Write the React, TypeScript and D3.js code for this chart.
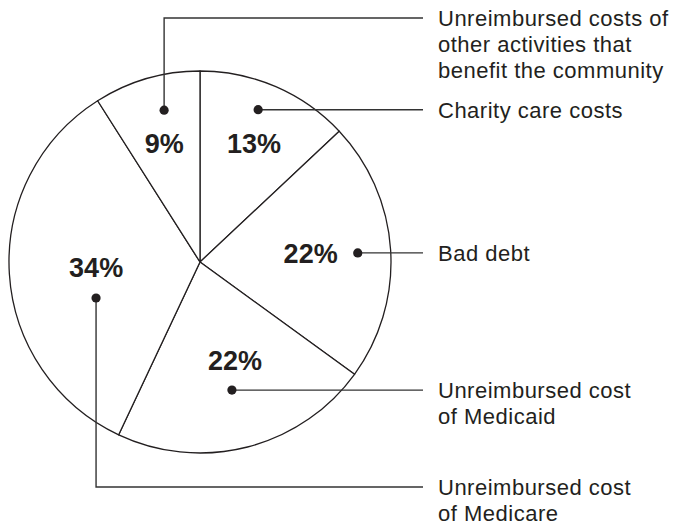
import React from 'react';
import * as d3 from 'd3';

// slice values, clockwise from 12 o'clock
const categories = ['charity', 'badDebt', 'medicaid', 'medicare', 'other'];
const values = [13, 22, 22, 34, 9];
const percentLabels = ['13%', '22%', '22%', '34%', '9%'];
const legendLines = [
  ['Charity care costs'],
  ['Bad debt'],
  ['Unreimbursed cost', 'of Medicaid'],
  ['Unreimbursed cost', 'of Medicare'],
  ['Unreimbursed costs of', 'other activities that', 'benefit the community'],
];

const width = 677;
const height = 527;
const cx = 200;
const cy = 262;
const radius = 191;
const lineEndX = 423;
const textX = 438;
const lineGap = 26;

// where label/dot sit inside each slice: radius + angle nudge (deg) from slice middle
const placement: Record<string, { lr: number; la: number; dr: number; da: number; rowY?: number }> = {
  charity: { lr: 131, la: 1, dr: 163, da: -2.5 },
  badDebt: { lr: 111, la: -1, dr: 158, da: 0.3 },
  medicaid: { lr: 104, la: -5.3, dr: 132, da: 0.4 },
  medicare: { lr: 104, la: 0.8, dr: 110, da: -15.5, rowY: 487 },
  other: { lr: 124, la: -0.6, dr: 156, da: 2.9, rowY: 18 },
};

const polar = (angle: number, r: number) => [cx + r * Math.sin(angle), cy - r * Math.cos(angle)];

export default function App() {
  const pie = d3.pie<number>().sort(null).value(d => d);
  const arcs = pie(values);
  const arc = d3.arc<d3.PieArcDatum<number>>().innerRadius(0).outerRadius(radius);
  const rad = (deg: number) => (deg * Math.PI) / 180;

  return (
    <svg
      width={width}
      height={height}
      style={{ position: 'absolute', left: 0, top: 0, background: '#fff' }}
      fontFamily="'Liberation Sans', Arial, Helvetica, sans-serif"
    >
      <g transform={`translate(${cx},${cy})`}>
        {arcs.map((a, i) => (
          <path key={categories[i]} d={arc(a) || ''} fill="#fff" stroke="#231f20" strokeWidth={1.3} strokeLinejoin="round" />
        ))}
      </g>
      {arcs.map((a, i) => {
        const p = placement[categories[i]];
        const mid = (a.startAngle + a.endAngle) / 2;
        const [lx, ly] = polar(mid + rad(p.la), p.lr);
        const [dx, dy] = polar(mid + rad(p.da), p.dr);
        const rowY = p.rowY ?? dy;
        const leader = p.rowY !== undefined
          ? `M${dx},${dy}V${rowY}H${lineEndX}`
          : `M${dx},${dy}H${lineEndX}`;
        return (
          <g key={categories[i]}>
            <text x={lx} y={ly + 10} textAnchor="middle" fontSize={27} fontWeight="bold" fill="#231f20">
              {percentLabels[i]}
            </text>
            <path d={leader} fill="none" stroke="#333" strokeWidth={1.4} />
            <circle cx={dx} cy={dy} r={4.6} fill="#231f20" />
            <text fontSize={22} fill="#231f20" letterSpacing={0.5}>
              {legendLines[i].map((t, j) => (
                <tspan key={j} x={textX} y={rowY + 7.8 + j * lineGap}>{t}</tspan>
              ))}
            </text>
          </g>
        );
      })}
    </svg>
  );
}
